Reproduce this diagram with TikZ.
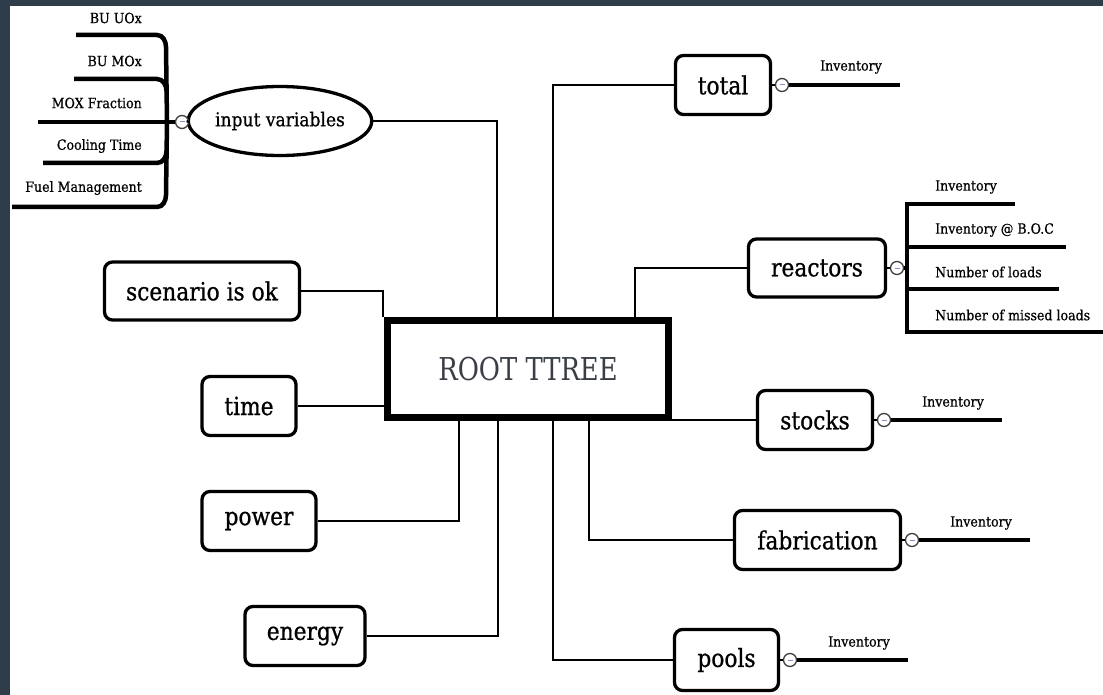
\documentclass[tikz,border=0pt]{standalone}
\usepackage{fontspec}
\setmainfont{DejaVu Serif}
\newfontfamily\boxf[FakeStretch=0.87,FakeBold=0.8]{DejaVu Serif}
\newfontfamily\rootf[FakeStretch=0.82]{DejaVu Serif}
\newfontfamily\labf[FakeStretch=0.9,FakeBold=0.6]{DejaVu Serif}
\usetikzlibrary{shapes.geometric,calc}
\definecolor{framecol}{HTML}{2F3D4A}
\definecolor{roottxt}{HTML}{3A3E46}
\definecolor{minuscol}{HTML}{8090C8}
\tikzset{
 mbox/.style={draw, line width=3.3pt, rounded corners=8pt, inner sep=0pt, fill=white, font=\boxf\fontsize{25}{28}\selectfont},
 link/.style={line width=2.3pt},
 kid/.style={line width=4.5pt},
 lab/.style={font=\labf\fontsize{14}{16}\selectfont, inner sep=0pt},
 tog/.style={circle, draw=black!75, fill=white, line width=1.3pt, minimum size=13pt, inner sep=0pt,
   path picture={\draw[minuscol, line width=1pt] ([xshift=-2.5pt]path picture bounding box.center) -- ([xshift=2.5pt]path picture bounding box.center);}},
}
\begin{document}
\begin{tikzpicture}[x=1pt,y=-1pt]
\useasboundingbox (0,0) rectangle (1103,695);
\fill[white] (0,0) rectangle (1103,695);
\fill[framecol] (0,0) rectangle (1103,6);
\fill[framecol] (0,0) rectangle (10,695);

% root
\node[draw, line width=7pt, minimum width=281pt, minimum height=97pt, inner sep=0pt,
  font=\rootf\fontsize{31.5}{34}\selectfont, text=roottxt] (root) at (528,369) {ROOT TTREE};

% left nodes
\node[ellipse, draw, line width=3.3pt, minimum width=173pt, minimum height=69pt, inner sep=0pt,
  fill=white, font=\labf\fontsize{19}{21}\selectfont] (inp) at (280,121) {input variables};
\node[mbox, minimum width=195pt, minimum height=58pt] (scen) at (202,291) {scenario is ok};
\node[mbox, minimum width=94pt, minimum height=59pt] (time) at (249,406) {time};
\node[mbox, minimum width=114pt, minimum height=59pt] (power) at (259,521) {power};
\node[mbox, minimum width=120pt, minimum height=59pt] (energy) at (305,636) {energy};

% right nodes
\node[mbox, minimum width=95pt, minimum height=59pt] (total) at (723,85) {total};
\node[mbox, minimum width=137pt, minimum height=58pt] (reac) at (817,268) {reactors};
\node[mbox, minimum width=115pt, minimum height=59pt] (stocks) at (815,420) {stocks};
\node[mbox, minimum width=166pt, minimum height=59pt] (fab) at (817.5,540) {fabrication};
\node[mbox, minimum width=104pt, minimum height=61pt] (pools) at (726.5,660) {pools};

% connectors to root
\draw[link] (inp.east) -| ([xshift=-31pt]root.north);
\draw[link] (scen.east) -| ([xshift=-1pt]root.north west);
\draw[link] (time.east) -- (time.east -| root.west);
\draw[link] (power.east) -| ([xshift=-69pt]root.south);
\draw[link] (energy.east) -| ([xshift=-30pt]root.south);
\draw[link] (total.west) -| ([xshift=25pt]root.north);
\draw[link] (reac.west) -| ([xshift=107pt]root.north);
\draw[link] (stocks.west) -- (stocks.west -| root.east);
\draw[link] (fab.west) -| ([xshift=61pt]root.south);
\draw[link] (pools.west) -| ([xshift=25pt]root.south);

% toggles
\node[tog] (tinp) at (182,122) {};
\node[tog] (ttot) at (782,85) {};
\node[tog] (trea) at (897,268) {};
\node[tog] (tsto) at (884,420) {};
\node[tog] (tfab) at (912,540) {};
\node[tog] (tpoo) at (790,660) {};
\draw[link] (inp.west) -- (tinp.east);
\draw[link] (total.east) -- (ttot.west);
\draw[link] (reac.east) -- (trea.west);
\draw[link] (stocks.east) -- (tsto.west);
\draw[link] (fab.east) -- (tfab.west);
\draw[link] (pools.east) -- (tpoo.west);

% input variables children
\coordinate (l1) at (76,35);
\coordinate (l2) at (74,79);
\coordinate (l3) at (38,122);
\coordinate (l4) at (43,163);
\coordinate (l5) at (12,207);
\draw[kid] (l1) -- (157,35) to[out=0,in=90] (166,47) -- (167,122) -- (166,195) to[out=-90,in=0] (157,207) -- (l5);
\draw[kid] (l2) -- (157,79) to[out=0,in=90] (166.5,91);
\draw[kid] (l4) -- (157,163) to[out=0,in=-90] (166.5,151);
\draw[kid] (l3) -- (tinp.west);
\node[lab, anchor=east] (n1) at (142,18) {BU UOx};
\node[lab, anchor=east] (n2) at (142,61) {BU MOx};
\node[lab, anchor=east] (n3) at (142,103) {MOX Fraction};
\node[lab, anchor=east] (n4) at (142,146) {Cooling Time};
\node[lab, anchor=east] (n5) at (142,188) {Fuel Management};

% single Inventory children
\coordinate (e1) at (900,85);
\coordinate (e2) at (1002,420);
\coordinate (e3) at (1030,540);
\coordinate (e4) at (908,660);
\draw[kid] (ttot.east) -- (e1);
\draw[kid] (tsto.east) -- (e2);
\draw[kid] (tfab.east) -- (e3);
\draw[kid] (tpoo.east) -- (e4);
\node[lab] (i1) at (851,67) {Inventory};
\node[lab] (i2) at (953,403) {Inventory};
\node[lab] (i3) at (981,523) {Inventory};
\node[lab] (i4) at (859,643) {Inventory};

% reactors children
\coordinate (rtop) at (907,204);
\coordinate (rbot) at (907,332);
\coordinate (r1) at (1015,204);
\coordinate (r2) at (1066,247);
\coordinate (r3) at (1059,289);
\coordinate (r4) at (1103,332);
\draw[kid] (r1) -- (rtop) -- (rbot) -- (r4);
\draw[kid] (rtop |- r2) -- (r2);
\draw[kid] (rtop |- r3) -- (r3);
\draw[kid] (trea.east) -- (trea.east -| rtop);
\node[lab, anchor=west] (k1) at (935,187) {Inventory};
\node[lab, anchor=west] (k2) at (935,230) {Inventory @ B.O.C};
\node[lab, anchor=west] (k3) at (935,272) {Number of loads};
\node[lab, anchor=west] (k4) at (935,315) {Number of missed loads};
\end{tikzpicture}
\end{document}
